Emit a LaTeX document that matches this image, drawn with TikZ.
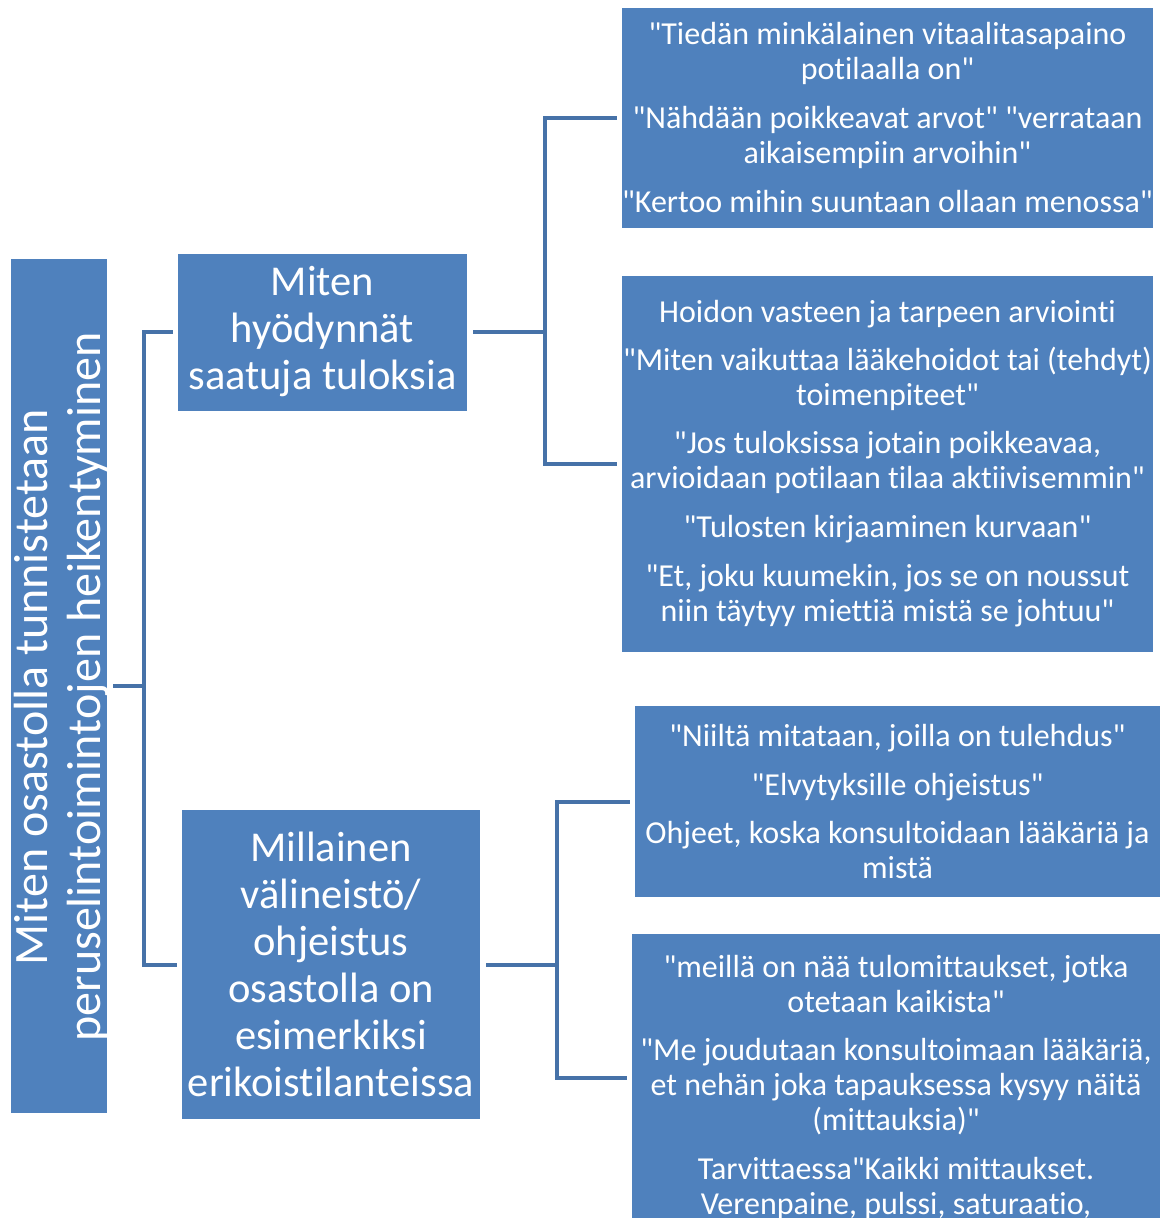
\documentclass[tikz,border=0pt]{standalone}
\usepackage{fontspec}
\setmainfont{Carlito}[Ligatures={TeXOff,NoCommon}]
\definecolor{boxblue}{HTML}{4F81BD}
\definecolor{lineblue}{HTML}{4672A8}
\begin{document}
\begin{tikzpicture}[x=1pt,y=-1pt,
  box/.style={fill=boxblue, text=white, inner sep=0pt, align=center},
  small/.style={font=\fontsize{32}{35}\selectfont},
  mid/.style={font=\fontsize{42.5}{47}\selectfont},
  conn/.style={draw=lineblue, line width=4pt, shorten <=6pt, shorten >=5pt}]
\useasboundingbox (0,0) rectangle (1161,1218);
\fill[white] (0,0) rectangle (1161,1218);
\begin{scope}
\clip (0,0) rectangle (1161,1218);
% root
\node[box, minimum width=96pt, minimum height=854pt] (root) at (59,686) {};
\node[text=white, rotate=90, inner sep=0pt, align=center,
      font=\fontsize{48}{53}\selectfont] (roottext) at (61.5,687)
  {Miten osastolla tunnistetaan\\peruselintoimintojen heikentyminen};
% second level
\node[box, mid, minimum width=289pt, minimum height=157pt] (A) at (322.5,332)
  {Miten\\hyödynnät\\saatuja tuloksia};
\node[box, mid, minimum width=298pt, minimum height=309pt] (B) at (331,964.5)
  {Millainen\\välineistö/\\ohjeistus\\osastolla on\\esimerkiksi\\erikoistilanteissa};
% leaves
\node[box, small, minimum width=531pt, minimum height=220pt] (R1) at (887.5,118)
  {"Tiedän minkälainen vitaalitasapaino\\potilaalla on"\\[14pt]
   "Nähdään poikkeavat arvot" "verrataan\\aikaisempiin arvoihin"\\[14pt]
   "Kertoo mihin suuntaan ollaan menossa"};
\node[box, small, minimum width=531pt, minimum height=376pt] (R2) at (887.5,464)
  {Hoidon vasteen ja tarpeen arviointi\\[13pt]
   "Miten vaikuttaa lääkehoidot tai (tehdyt)\\toimenpiteet"\\[13pt]
   "Jos tuloksissa jotain poikkeavaa,\\arvioidaan potilaan tilaa aktiivisemmin"\\[14pt]
   "Tulosten kirjaaminen kurvaan"\\[14pt]
   "Et, joku kuumekin, jos se on noussut\\niin täytyy miettiä mistä se johtuu"};
\node[box, small, minimum width=525pt, minimum height=191pt] (R3) at (897.5,801.5)
  {"Niiltä mitataan, joilla on tulehdus"\\[14pt]
   "Elvytyksille ohjeistus"\\[13pt]
   Ohjeet, koska konsultoidaan lääkäriä ja\\mistä};
\node[box, minimum width=528pt, minimum height=288pt] (R4) at (896,1078) {};
\node[text=white, small, inner sep=0pt, align=center, anchor=north] (R4text) at (896,955)
  {"meillä on nää tulomittaukset, jotka\\otetaan kaikista"\\[13pt]
   "Me joudutaan konsultoimaan lääkäriä,\\et nehän joka tapauksessa kysyy näitä\\(mittauksia)"\\[14pt]
   Tarvittaessa"Kaikki mittaukset.\\Verenpaine, pulssi, saturaatio,};
% connectors
\coordinate (j0) at (144,686);
\coordinate (j1) at (545,332);
\coordinate (j2) at (557,964.5);
\coordinate (r4w) at (632,1078);
\draw[conn] (root.east) -- (j0) |- (A.west);
\draw[conn] (root.east) -- (j0) |- (B.west);
\draw[conn] (A.east) -- (j1) |- (R1.west);
\draw[conn] (A.east) -- (j1) |- (R2.west);
\draw[conn] (B.east) -- (j2) |- (R3.west);
\draw[conn] (B.east) -- (j2) |- (r4w);
\end{scope}
\end{tikzpicture}
\end{document}
